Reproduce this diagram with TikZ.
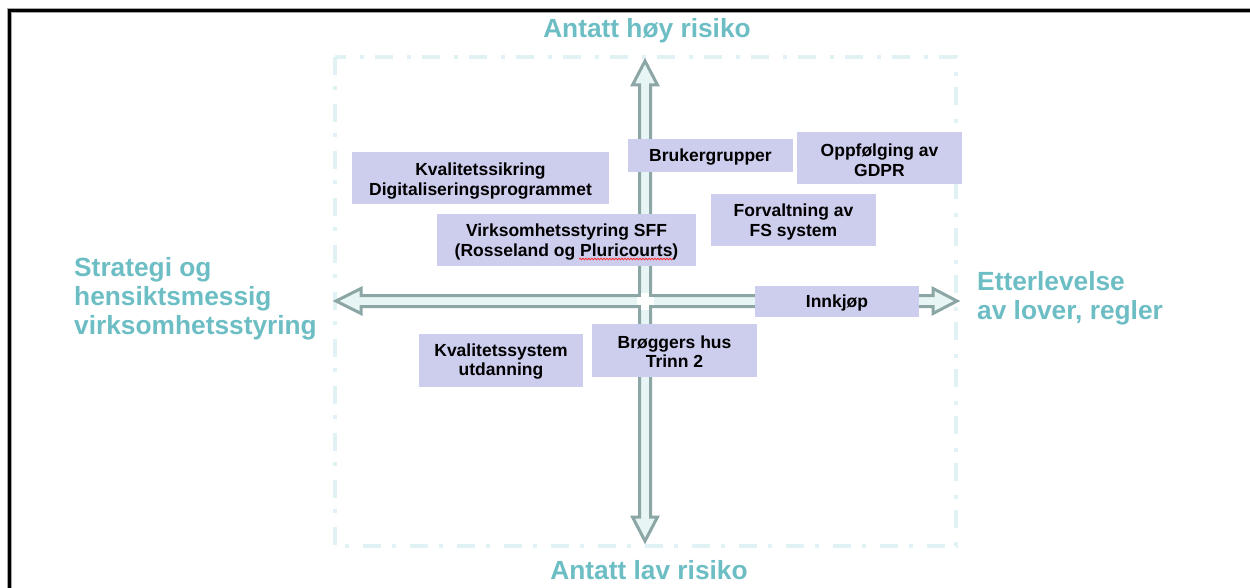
\documentclass[tikz,border=0pt]{standalone}
\usepackage{fontspec}
\setmainfont{Liberation Sans}
\usetikzlibrary{decorations.pathmorphing}
\definecolor{boxfill}{RGB}{205,205,238}
\definecolor{axlabel}{RGB}{108,189,196}
\definecolor{arrline}{RGB}{140,166,166}
\definecolor{arrfill}{RGB}{232,245,245}
\definecolor{dashcol}{RGB}{224,242,243}
\tikzset{
  itembox/.style={fill=boxfill, inner sep=0pt},
  boxtext/.style={inner sep=0pt, align=center, font=\bfseries\fontsize{17.5}{19.5}\selectfont, text=black},
  axistext/.style={inner sep=0pt, text=axlabel, font=\bfseries\fontsize{26.3}{28.8}\selectfont},
  hollowarrow/.style={draw=arrline, fill=arrfill, line width=3pt, line join=miter},
}
\begin{document}
\begin{tikzpicture}[x=1pt,y=-1pt]
\useasboundingbox (0,0) rectangle (1250,588);
% outer frame
\draw[gray!70, line width=5pt] (9.5,600) -- (9.5,10.5) -- (1260,10.5);
\draw[black, line width=3pt] (9.5,600) -- (9.5,10.5) -- (1260,10.5);
% dash-dot box
\draw[dashcol, line width=3.5pt, dash pattern=on 18pt off 11pt on 4pt off 14pt] (335,57) rectangle (956,546);
% arrows
\def\cx{645}\def\cy{301}\def\sw{5.5}\def\hw{12.5}
\draw[hollowarrow] (\cx-\sw,517) -- (\cx-\sw,85) -- (\cx-\hw,85) -- (\cx,61) -- (\cx+\hw,85) -- (\cx+\sw,85) -- (\cx+\sw,517) -- (\cx+\hw,517) -- (\cx,541) -- (\cx-\hw,517) -- cycle;
\draw[hollowarrow] (361,\cy-\sw) -- (933,\cy-\sw) -- (933,\cy-\hw) -- (957,\cy) -- (933,\cy+\hw) -- (933,\cy+\sw) -- (361,\cy+\sw) -- (361,\cy+\hw) -- (336,\cy) -- (361,\cy-\hw) -- cycle;
\fill[white] (\cx-\sw+1.5,\cy-\sw-3) rectangle (\cx+\sw-1.5,\cy+\sw+3);
\fill[white] (\cx-\sw-3,\cy-\sw+1.5) rectangle (\cx+\sw+3,\cy+\sw-1.5);
% boxes
\node[itembox, minimum width=257pt, minimum height=52pt] (kvs) at (480.5,178) {};
\node[itembox, minimum width=259pt, minimum height=52pt] (vss) at (566.5,240) {};
\node[itembox, minimum width=165pt, minimum height=33pt] (bru) at (710.5,155.5) {};
\node[itembox, minimum width=165pt, minimum height=52pt] (gdpr) at (879.5,158) {};
\node[itembox, minimum width=165pt, minimum height=52pt] (fs) at (793.5,220) {};
\node[itembox, minimum width=164pt, minimum height=31pt] (inn) at (837,301.5) {};
\node[itembox, minimum width=165pt, minimum height=53pt] (bro) at (674.5,350.5) {};
\node[itembox, minimum width=164pt, minimum height=53pt] (kvu) at (501,360.5) {};
\node[boxtext] (kvst) at ([yshift=-3pt]kvs.center) {Kvalitetssikring\\Digitaliseringsprogrammet};
\node[boxtext] (vsst) at ([yshift=-2pt]vss.center) {Virksomhetsstyring SFF\\(Rosseland og Pluricourts)};
\node[boxtext] (brut) at ([yshift=-2pt]bru.center) {Brukergrupper};
\node[boxtext] (gdprt) at ([yshift=-2pt]gdpr.center) {Oppfølging av\\GDPR};
\node[boxtext] (fst) at ([yshift=-2pt]fs.center) {Forvaltning av\\FS system};
\node[boxtext] (innt) at ([yshift=-1pt]inn.center) {Innkjøp};
\node[boxtext] (brot) at ([yshift=-1pt]bro.center) {Brøggers hus\\Trinn 2};
\node[boxtext] (kvut) at ([yshift=-1pt]kvu.center) {Kvalitetssystem\\utdanning};
% spell-check squiggle
\coordinate (sq1) at (579,259);
\coordinate (sq2) at (673,259);
\draw[red!85, line width=0.7pt, decorate, decoration={snake, amplitude=0.9pt, segment length=3pt}] (sq1) -- (sq2);
% axis labels
\node[axistext] (top) at (647,31) {Antatt høy risiko};
\node[axistext] (bot) at (649,570) {Antatt lav risiko};
\node[axistext, anchor=west, align=left] (left) at (74,299) {Strategi og\\hensiktsmessig\\virksomhetsstyring};
\node[axistext, anchor=west, align=left] (right) at (977,298) {Etterlevelse\\av lover, regler};
\end{tikzpicture}
\end{document}
